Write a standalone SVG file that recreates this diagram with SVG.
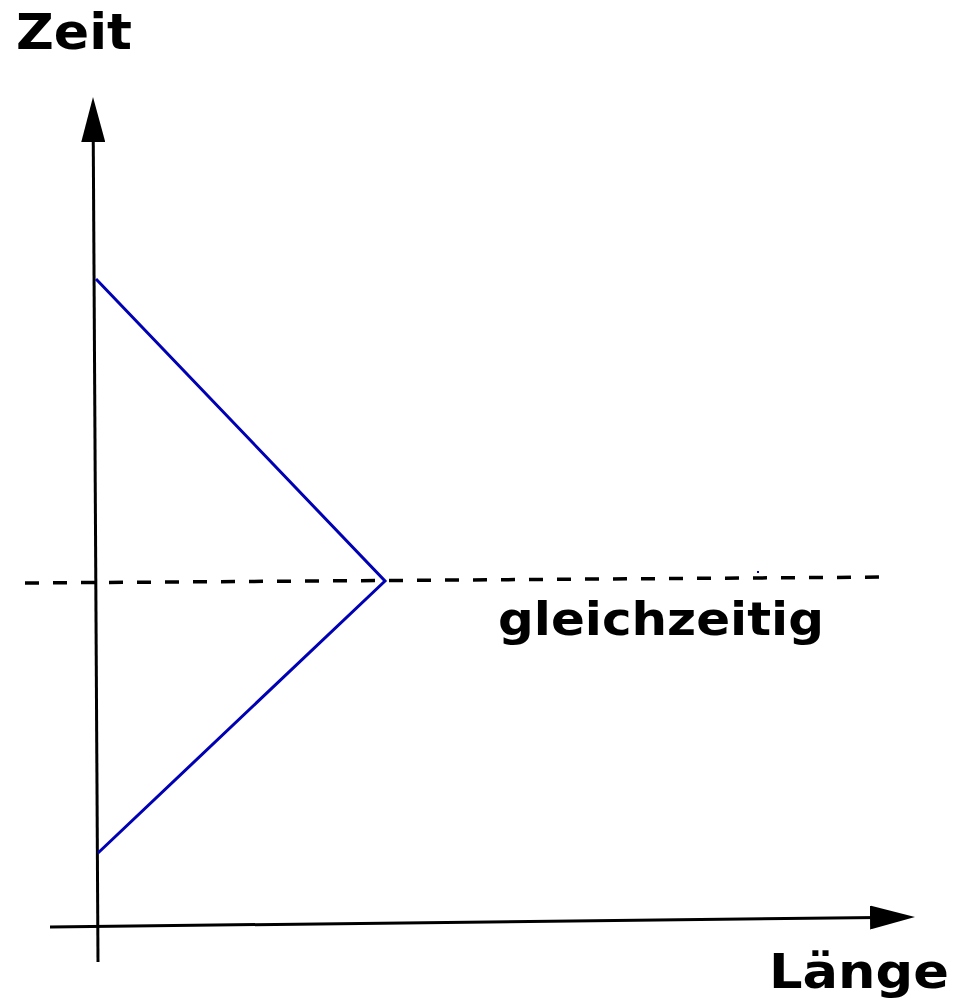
<svg xmlns="http://www.w3.org/2000/svg" width="956" height="1001" viewBox="0 0 956 1001">
<style>
.lbl{font-family:"DejaVu Sans",sans-serif;font-weight:bold;fill:#000}
.ax{stroke:#000;stroke-width:3;fill:none}
.blue{stroke:#0000b4;stroke-width:3;fill:none}
.dash{stroke:#000;stroke-width:3.5;stroke-dasharray:14 14;fill:none}
</style>
<defs>
<marker id="ah" markerUnits="userSpaceOnUse" markerWidth="46" markerHeight="24" refX="32" refY="12" orient="auto">
<path d="M0,0 L45,12 L0,24 Z" fill="#000"/>
</marker>
</defs>
<rect width="956" height="1001" fill="#fff"/>
<g id="connectors">
<line class="ax" x1="98" y1="962" x2="93.08" y2="110" marker-end="url(#ah)"/>
<line class="ax" x1="50" y1="927" x2="902" y2="917.15" marker-end="url(#ah)"/>
<line class="dash" x1="25" y1="583" x2="892" y2="577"/>
<polyline class="blue" points="96,279 385,581 98,853"/>
<rect x="757" y="571" width="2" height="2" fill="#0000b4"/>
</g>
<g id="label-zeit"><text class="lbl" x="16" y="49" font-size="50" textLength="116" lengthAdjust="spacingAndGlyphs">Zeit</text></g>
<g id="label-laenge"><text class="lbl" x="769" y="988" font-size="48" textLength="180" lengthAdjust="spacingAndGlyphs">Länge</text></g>
<g id="label-gleichzeitig"><text class="lbl" x="498" y="635" font-size="47" textLength="326" lengthAdjust="spacingAndGlyphs">gleichzeitig</text></g>
</svg>
